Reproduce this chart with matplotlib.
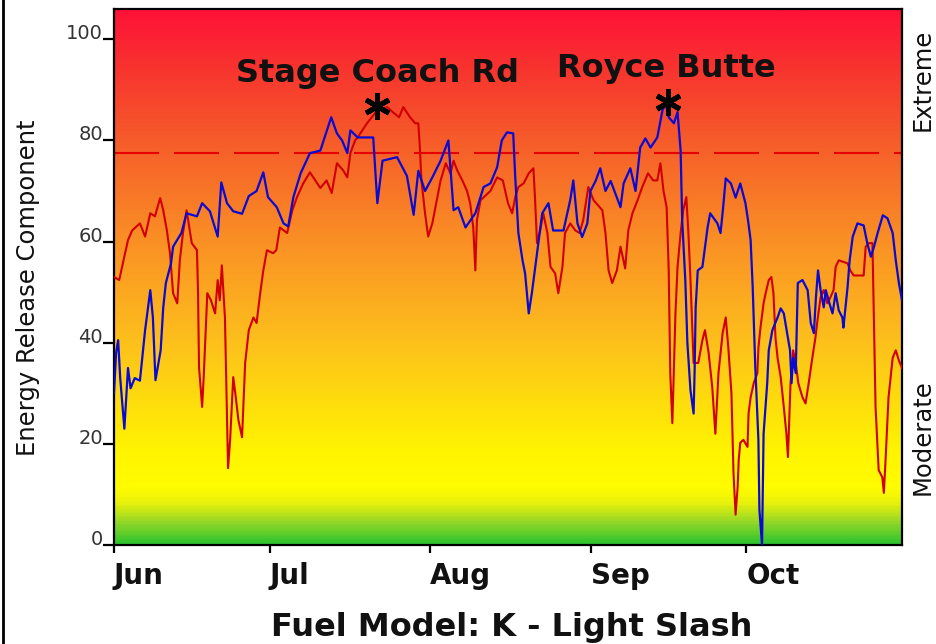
"""ERC season chart: two stations over a danger-class colour ramp."""

import matplotlib
matplotlib.use("Agg")
import matplotlib.pyplot as plt
import numpy as np
from matplotlib.colors import LinearSegmentedColormap
from matplotlib.lines import Line2D

plt.rcParams["font.family"] = ["DejaVu Sans"]

# x = days since 1 June, y = Energy Release Component
stage_days = [0, 1.0, 2.0, 2.7, 3.5, 5.0, 6.0, 7.0, 7.9, 8.9, 9.5, 10.2, 10.8, 11.4,
              12.2, 12.7, 13.3, 14.0, 15.0, 16.0, 16.2, 16.4, 17.0, 17.3, 18.0, 18.7,
              19.5, 20.0, 20.4, 20.8, 21.4, 21.8, 22.0, 22.4, 23.0, 23.4, 24.0, 24.7,
              25.3, 26.0, 26.9, 27.5, 28.2, 28.8, 29.5, 30.7, 31.3, 32.0, 33.4, 34.4,
              35.3, 36.5, 37.8, 39.8, 41.0, 42.0, 43.0, 44.2, 45.0, 45.6, 46.5, 47.0,
              48.8, 50.8, 52.7, 54.0, 55.0, 55.8, 57.1, 58.1, 58.7, 59.0, 59.3, 60.0,
              60.6, 61.4, 62.0, 63.0, 64.0, 64.9, 65.5, 66.2, 67.2, 68.1, 68.7, 69.3,
              69.7, 70.0, 70.7, 72.6, 73.9, 75.0, 76.0, 76.8, 77.4, 78.0, 79.0, 80.0,
              80.9, 81.2, 81.6, 82.2, 82.8, 83.6, 84.2, 85.1, 85.7, 86.5, 87.0, 88.0,
              89.0, 89.8, 90.5, 91.5, 92.5, 94.2, 94.8, 95.4, 96.1, 97.0, 97.7, 98.6,
              99.2, 100.0, 101.0, 101.9, 103.0, 104.0, 104.8, 105.4, 106.0, 106.6,
              107.0, 107.3, 107.7, 108.3, 108.7, 109.3, 109.8, 110.4, 110.8, 111.2,
              111.8, 112.7, 113.5, 114.0, 114.7, 115.4, 116.0, 116.6, 117.4, 118.0,
              118.5, 119.1, 119.5, 119.9, 120.3, 120.5, 120.8, 121.4, 122.2, 122.4,
              122.8, 123.4, 124.1, 124.3, 124.7, 125.3, 125.7, 126.3, 126.8, 127.2,
              127.6, 128.0, 128.6, 129.2, 129.7, 130.0, 130.5, 131.0, 131.5, 132.0,
              132.8, 133.4, 134.0, 134.7, 135.3, 135.7, 136.3, 136.9, 137.6, 138.2,
              138.8, 139.2, 139.8, 141.5, 142.0, 142.7, 144.6, 145.0, 145.6, 146.3,
              146.5, 146.9, 147.5, 148.2, 148.5, 148.8, 149.4, 150.2, 150.8, 151.4,
              152.0]
stage_erc = [53, 52.4, 57, 60.3, 62.2, 63.6, 61, 65.6, 65, 68.6, 66.2, 62.2, 57.7, 49.8,
             47.8, 56.3, 61.7, 66.2, 59.7, 58.3, 50.4, 35.2, 27.3, 33.2, 49.8, 48.4,
             45.8, 52.4, 48.4, 55.3, 45, 25.3, 15.2, 20.8, 33.2, 30, 24.7, 21.3,
             36, 42.5, 45, 43.9, 49.8, 54.3, 58.3, 57.7, 58.3, 62.8, 61.7, 66.2,
             68.8, 71.5, 73.7, 70.6, 72.1, 69.6, 75.5, 74.1, 72.7, 77.5, 80, 80.6,
             83.4, 86, 86.6, 85.4, 84.6, 86.6, 84.6, 83.4, 83.4, 78.6, 72.1, 65.6,
             61, 63.6, 66.8, 72.1, 75.5, 73.5, 76, 74.1, 72.1, 70, 67.6, 62.8,
             54.3, 64.2, 68.2, 70, 72.7, 72.1, 67.6, 65.6, 68.8, 70.8, 71.5, 73.5,
             74.5, 68.8, 59.7, 62.2, 65.6, 61.7, 55, 53.7, 49.8, 55, 61.7, 63.6,
             62.2, 61.7, 64.2, 70.8, 68.2, 66.2, 61.7, 54.3, 51.8, 54.3, 59, 54.7,
             62.2, 65.6, 68.2, 70.8, 73.5, 72.1, 72.1, 75.5, 70, 66.8,
             54.3, 34, 24.1, 45.8, 55, 61.7, 66.2, 68.8, 61.7, 52.4,
             36, 36, 40.5, 42.5, 38, 31.2, 22, 34, 41.9, 45,
             39, 30, 14.2, 6, 11.5, 16.8, 20.2, 20.8, 19.4, 26,
             29.2, 32, 34, 39, 43, 47.8, 49.8, 52.4, 53, 49.8,
             41, 37, 33.2, 27.3, 22, 17.4, 32, 38.5, 36, 32,
             29.2, 28, 32, 37, 41, 44.5, 49, 50.4, 47.8, 49,
             50.4, 55, 56.3, 55.7, 54.3, 53.3, 53.3, 59, 59.7, 59.7,
             49, 27.3, 14.8, 13.4, 10.3, 16.2, 29.2, 37, 38.5, 36.5,
             35]

royce_days = [0, 0.4, 0.8, 1.2, 2.0, 2.7, 3.2, 4.0, 5.0, 5.6, 6.0, 7.0, 7.5, 8.0, 9.0,
              9.5, 10.0, 11.0, 11.4, 13.0, 14.0, 16.0, 17.0, 18.5, 20.0, 20.7, 21.8,
              23.0, 24.7, 26.0, 27.5, 28.8, 29.7, 31.4, 32.7, 33.6, 34.6, 36.0, 37.8,
              39.8, 41.9, 43.0, 44.0, 45.0, 45.6, 47.0, 50.0, 50.8, 51.8, 54.6, 56.5,
              57.8, 58.7, 60.0, 61.4, 63.0, 64.5, 65.5, 66.4, 67.8, 69.7, 71.3, 72.6,
              73.9, 74.8, 75.8, 77.0, 77.4, 78.0, 78.8, 79.3, 80.0, 80.6, 81.6, 82.6,
              83.8, 84.7, 86.7, 88.0, 88.6, 89.4, 90.3, 91.3, 91.9, 92.9, 93.8, 94.8,
              95.8, 97.7, 98.3, 99.6, 100.6, 101.5, 102.5, 103.5, 104.8, 105.8, 106.4,
              107.0, 108.0, 108.7, 109.3, 109.6, 110.2, 110.6, 111.2, 111.8, 112.0,
              112.2, 112.6, 113.5, 114.5, 115.0, 116.4, 117.0, 117.5, 118.0, 119.0,
              119.9, 120.8, 121.8, 122.3, 122.8, 123.2, 123.7, 124.3, 124.5, 125.0,
              125.3, 126.0, 126.3, 127.0, 128.0, 128.6, 129.2, 130.0, 130.4, 130.7,
              131.0, 131.5, 131.9, 132.8, 133.8, 134.4, 135.0, 135.4, 135.8, 136.3,
              136.9, 137.3, 138.0, 138.6, 139.2, 139.8, 140.5, 140.7, 141.5, 141.9,
              142.5, 143.4, 144.6, 145.3, 146.0, 146.6, 147.3, 148.3, 149.2, 150.2,
              150.8, 151.4, 152.0]
royce_erc = [30, 38, 40.5, 33, 23, 35, 31, 33, 32.5, 38.5, 42.5, 50.4, 45, 32.6, 38.5,
             47, 51.8, 55.7, 59, 61.7, 65.6, 65, 67.6, 66, 61, 71.7, 67.6,
             66, 65.5, 69, 70, 73.7, 68.8, 66.8, 63.6, 63, 68.8, 73.5, 77.5,
             78, 84.6, 81.4, 80, 77.5, 82, 80.6, 80.6, 67.6, 76, 76.7, 73,
             65.3, 74, 70, 72.7, 76, 80, 66.2, 66.8, 62.8, 65.6, 70.8, 71.5,
             74.7, 80, 81.6, 81.4, 72.7, 61.7, 56.3, 53.7, 45.8, 49.8, 57.7, 65.6,
             67.6, 62.2, 62.2, 68.2, 72.1, 63.6, 60.9, 63.6, 70, 72, 74.5, 70,
             72, 66.8, 71.5, 74.5, 70, 78.6, 80.4, 78.6, 80.6, 86, 87.3,
             84.6, 83.4, 85.6, 78, 64.2, 52.4, 40, 30.6, 26, 34.6,
             47, 54.3, 55, 62.8, 65.6, 63.6, 61.7, 66.8, 72.5, 71.5,
             68.7, 71.5, 67.6, 64.2, 60.3, 51, 35.2, 20.8, 6.9, 0,
             22, 32, 38.5, 42.5, 45, 46.8, 45.8, 41, 38.5, 32,
             37, 34, 51.8, 52.4, 50.4, 43.9, 41.9, 49, 54.3, 50.4,
             47, 50.4, 47.8, 45.8, 49.8, 46.4, 45, 43, 51, 56.3,
             61, 63.6, 63.2, 59.7, 57, 59, 61.7, 65.2, 64.6, 61.7,
             56.3, 51.8, 48.4]

month_days = [0, 30, 61, 92, 122]
month_labels = ["Jun", "Jul", "Aug", "Sep", "Oct"]
erc_ticks = [0, 20, 40, 60, 80, 100]
threshold_erc = 77.6
stage_peak = (50.8, 86.8)
royce_peak = (106.8, 87.7)

# background ramp: green -> yellow -> orange -> red, keyed on ERC value
ramp_stops = [(0, "#2fc42f"), (4, "#8fd628"), (8, "#e8f10c"), (11, "#fffc00"),
              (18, "#fff500"), (40, "#fdc01c"), (60, "#fa9025"), (80, "#f65c2a"),
              (95, "#f8322f"), (106, "#ff1238")]
ymax = 106
xmax = 152

cmap = LinearSegmentedColormap.from_list(
    "erc", [(v / ymax, c) for v, c in ramp_stops])

fig = plt.figure(figsize=(9.36, 6.44), dpi=100)
ax = fig.add_axes([114 / 936, 1 - 545 / 644, 788 / 936, 536 / 644])

ramp = np.linspace(0, ymax, 400).reshape(-1, 1)
ax.imshow(ramp, cmap=cmap, extent=(0, xmax, 0, ymax), origin="lower",
          aspect="auto", zorder=0, vmin=0, vmax=ymax)

ax.axhline(threshold_erc, color="#e60000", lw=1.5, dashes=(21.6, 7.2), zorder=2)
ax.plot(stage_days, stage_erc, color="#d00000", lw=1.5, zorder=3)
ax.plot(royce_days, royce_erc, color="#0a0ad2", lw=1.6, zorder=4)

for (d, v) in (stage_peak, royce_peak):
    ax.plot(d, v, marker=(6, 2, 0), ms=19, mew=3.6, color="black", zorder=6)

ax.text(50.8, 91.5, "Stage Coach Rd", ha="center", va="baseline",
        fontsize=23, fontweight="bold", color="#111111", zorder=7)
ax.text(106.6, 92.6, "Royce Butte", ha="center", va="baseline",
        fontsize=23, fontweight="bold", color="#111111", zorder=7)

ax.set_xlim(0, xmax)
ax.set_ylim(0, ymax)
ax.set_xticks(month_days)
ax.set_xticklabels(month_labels, ha="left", fontsize=20, fontweight="bold",
                   color="#111111")
ax.set_yticks(erc_ticks)
ax.set_yticklabels([str(v) for v in erc_ticks], va="baseline", fontsize=14,
                   color="#333333")
ax.tick_params(axis="x", direction="out", length=6, width=1.6, pad=6)
ax.tick_params(axis="y", direction="out", length=8, width=1.6, pad=0)

for sp in ax.spines.values():
    sp.set_linewidth(1.6)
    sp.set_color("black")

ax.set_ylabel("Energy Release Component", fontsize=17.5, color="#111111")
ax.yaxis.set_label_coords(-0.094, 0.48)

fig.text(923 / 936, 1 - 80 / 644, "Extreme", rotation=90, ha="center",
         va="center", fontsize=17.5, color="#111111")
fig.text(923 / 936, 1 - 437 / 644, "Moderate", rotation=90, ha="center",
         va="center", fontsize=17.5, color="#111111")

# the original crops the descenders; keep the whole title inside the canvas
fig.text(512 / 936, 8 / 644, "Fuel Model: K - Light Slash", ha="center",
         va="baseline", fontsize=23, fontweight="bold", color="#111111")

# left edge of the original screenshot frame
fig.add_artist(Line2D([3 / 936, 3 / 936], [0, 1], transform=fig.transFigure,
                      color="black", lw=2))

fig.savefig("out.png", dpi=100, facecolor="white")
plt.close(fig)
